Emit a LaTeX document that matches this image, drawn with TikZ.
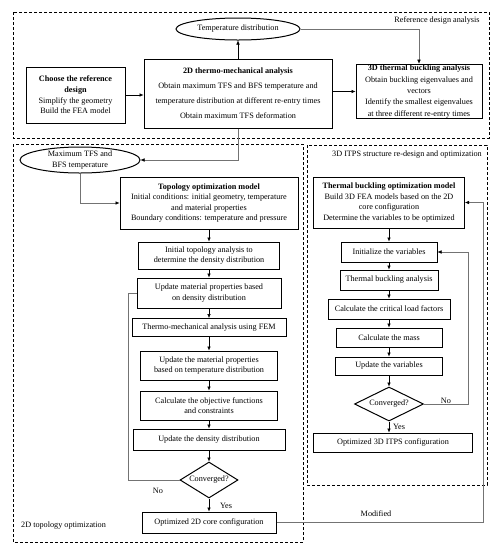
\documentclass[tikz,border=0pt]{standalone}
\usepackage{fontspec}
\setmainfont{Liberation Serif}
\usetikzlibrary{shapes.geometric,arrows.meta}
\begin{document}
\begin{tikzpicture}[x=1pt,y=-1pt,
  every node/.style={font=\fontsize{8.2}{10.6}\selectfont, inner sep=1pt},
  box/.style={draw, line width=1pt, align=center, inner sep=1pt},
  ell/.style={draw, ellipse, line width=1pt, align=center, inner sep=0pt},
  dec/.style={draw, diamond, line width=1pt, inner sep=0pt, aspect=1.6},
  region/.style={draw, line width=1pt, dash pattern=on 3pt off 2pt},
  arr/.style={line width=0.5pt, -{Latex[length=4pt,width=3.6pt]}},
  garr/.style={draw=black!55, line width=0.5pt, -{Latex[length=4pt,width=3.6pt,black]}},
  gline/.style={draw=black!55, line width=0.5pt}]
\useasboundingbox (0,0) rectangle (497,550);
% regions
\draw[region] (13,12) rectangle (489,138);
\draw[region] (13,144) rectangle (303,542);
\draw[region] (307,145) rectangle (487,485);
% top part
\node[box, minimum width=99pt, minimum height=56pt] (ref) at (75.5,95)
  {\textbf{Choose the reference}\\ \textbf{design}\\ Simplify the geometry\\ Build the FEA model};
\node[box, minimum width=188pt, minimum height=69pt,
  font=\fontsize{8.2}{15}\selectfont] (thermo) at (238,93.5)
  {\textbf{2D thermo-mechanical analysis}\\ Obtain maximum TFS and BFS temperature and\\ temperature distribution at different re-entry times\\ Obtain maximum TFS deformation};
\node[ell, minimum width=124pt, minimum height=22pt] (tdist) at (238,29) {Temperature distribution};
\node[box, minimum width=126pt, minimum height=53pt, font=\fontsize{8.2}{11.3}\selectfont] (buck) at (419,91.5)
  {\textbf{3D thermal buckling analysis}\\ Obtain buckling eigenvalues and\\ vectors\\ Identify the smallest eigenvalues\\ at three different re-entry times};
\node (rda) at (437,20) {Reference design analysis};
% left column
\node[ell, minimum width=120pt, minimum height=26pt] (maxt) at (80,160) {Maximum TFS and\\ BFS temperature};
\node[box, minimum width=178pt, minimum height=52pt] (topo) at (209,203)
  {\textbf{Topology optimization model}\\ Initial conditions: initial geometry, temperature\\ and material properties\\ Boundary conditions: temperature and pressure};
\node[box, minimum width=141pt, minimum height=27pt] (inittopo) at (209,255.5)
  {Initial topology analysis to\\ determine the density distribution};
\node[box, minimum width=144pt, minimum height=30pt] (updmat) at (209,293)
  {Update material properties based\\ on density distribution};
\node[box, minimum width=154pt, minimum height=18pt] (fem) at (209,327.5)
  {Thermo-mechanical analysis using FEM};
\node[box, minimum width=137pt, minimum height=29pt] (updtemp) at (209,365.5)
  {Update the material properties\\ based on temperature distribution};
\node[box, minimum width=137pt, minimum height=29pt] (obj) at (209,405.5)
  {Calculate the objective functions\\ and constraints};
\node[box, minimum width=152pt, minimum height=21pt] (upddens) at (209,439.5)
  {Update the density distribution};
\node[dec, minimum width=58pt, minimum height=36pt] (conv1) at (209,480) {Converged?};
\node[box, minimum width=134pt, minimum height=21pt] (opt2d) at (209,522.5)
  {Optimized 2D core configuration};
\node (no1) at (158,491) {No};
\node (yes1) at (226,506) {Yes};
\node[anchor=west] (lab2d) at (20,526) {2D topology optimization};
% right column
\node[anchor=east] (lab3d) at (483,155) {3D ITPS structure re-design and optimization};
\node[box, minimum width=151pt, minimum height=51pt] (tbom) at (389,202.5)
  {\textbf{Thermal buckling optimization model}\\ Build 3D FEA models based on the 2D\\ core configuration\\ Determine the variables to be optimized};
\node[box, minimum width=96pt, minimum height=20pt] (initv) at (389,252) {Initialize the variables};
\node[box, minimum width=98pt, minimum height=20pt] (tba) at (389,280) {Thermal buckling analysis};
\node[box, minimum width=122pt, minimum height=20pt] (clf) at (389,309) {Calculate the critical load factors};
\node[box, minimum width=106pt, minimum height=19pt] (mass) at (389,337.5) {Calculate the mass};
\node[box, minimum width=107pt, minimum height=18pt] (updvar) at (389,366) {Update the variables};
\node[dec, minimum width=69pt, minimum height=34pt] (conv2) at (389,404) {Converged?};
\node[box, minimum width=159pt, minimum height=19pt] (opt3d) at (393,442.5) {Optimized 3D ITPS configuration};
\node (no2) at (446,401) {No};
\node (yes2) at (399,427) {Yes};
\node (modl) at (376,514) {Modified};
% helper coordinates
\coordinate (nolx) at (128,0);
\coordinate (modx) at (483,0);
\coordinate (loopx) at (468,0);
% top connectors
\draw[arr] (ref.east) -- (ref.east -| thermo.west);
\draw[arr] (thermo.east |- buck.west) -- (buck.west);
\draw[arr] (thermo.north) -- (tdist.south);
\draw[garr] (tdist.east) -| (buck.north);
\draw[garr] (thermo.south) |- (maxt.east);
\draw[garr] (maxt.south) |- (topo.west);
% left column arrows
\draw[arr] (topo.south) -- (inittopo.north);
\draw[arr] (inittopo.south) -- (updmat.north);
\draw[arr] (updmat.south) -- (fem.north);
\draw[arr] (fem.south) -- (updtemp.north);
\draw[arr] (updtemp.south) -- (obj.north);
\draw[arr] (obj.south) -- (upddens.north);
\draw[arr] (upddens.south) -- (conv1.north);
\draw[arr] (conv1.south) -- (opt2d.north);
\draw[gline] (conv1.west) -| (nolx |- updmat.west) -- (updmat.west);
\draw[garr] (opt2d.east) -| (modx |- tbom.east) -- (tbom.east);
% right column arrows
\draw[arr] (tbom.south) -- (initv.north);
\draw[arr] (initv.south) -- (tba.north);
\draw[arr] (tba.south) -- (clf.north);
\draw[arr] (clf.south) -- (mass.north);
\draw[arr] (mass.south) -- (updvar.north);
\draw[arr] (updvar.south) -- (conv2.north);
\draw[arr] (conv2.south) -- (conv2.south |- opt3d.north);
\draw[garr] (conv2.east) -| (loopx |- initv.east) -- (initv.east);
\end{tikzpicture}
\end{document}
